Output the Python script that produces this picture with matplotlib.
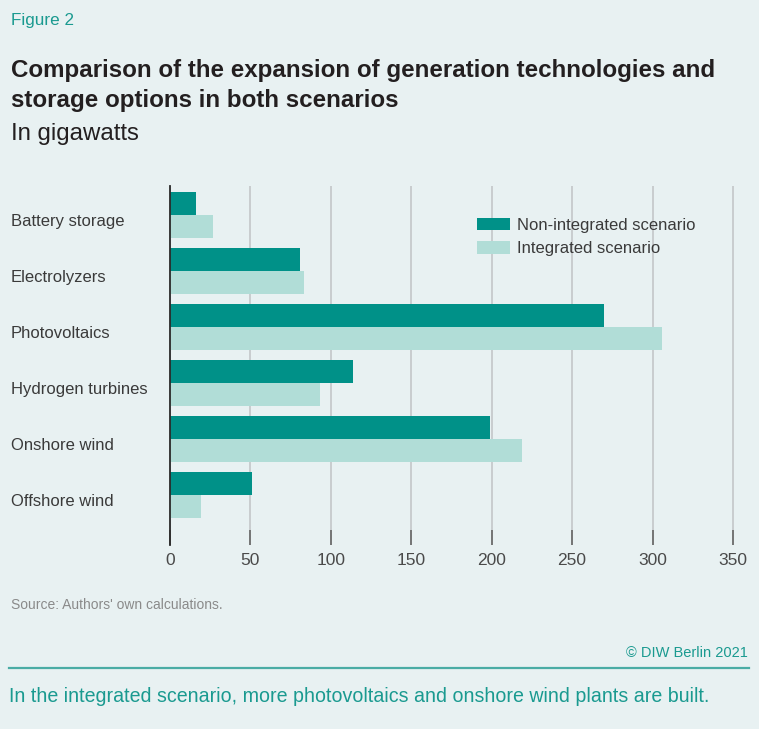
import numpy as np
import matplotlib
matplotlib.use("Agg")
import matplotlib.pyplot as plt

plt.rcParams['font.family'] = ['Liberation Sans', 'DejaVu Sans']

# data (GW)
categories = ["Battery storage", "Electrolyzers", "Photovoltaics",
              "Hydrogen turbines", "Onshore wind", "Offshore wind"]
non_integrated = [16, 81, 270, 114, 199, 51]
integrated = [27, 83, 306, 93, 219, 19]
xticks = [0, 50, 100, 150, 200, 250, 300, 350]

bg = '#e8f1f2'
dark = '#009188'
light = '#b1ddd7'
teal_text = '#1a9a90'

fig = plt.figure(figsize=(7.59, 7.29), dpi=100, facecolor=bg)
ax = fig.add_axes([170/759, 1 - 545/729, (741 - 170)/759, (545 - 186)/729])
ax.set_facecolor(bg)

y = np.arange(len(categories))
h = 0.41
ax.barh(y - h/2, non_integrated, height=h, color=dark, label="Non-integrated scenario", zorder=3)
ax.barh(y + h/2, integrated, height=h, color=light, label="Integrated scenario", zorder=3)

ax.set_xlim(0, 355)
ax.set_ylim(5.89, -0.52)

ax.set_xticks(xticks)
ax.set_xticklabels([str(t) for t in xticks], fontsize=12.5, color='#4a4a4a')
ax.tick_params(axis='x', direction='in', length=15*72/100, width=1.3, color='#6e6e6e', pad=6)
ax.xaxis.grid(True, color='#c9cdcf', linewidth=1.4, zorder=0)
ax.set_axisbelow(True)

ax.set_yticks(y)
ax.set_yticklabels(categories, fontsize=12, color='#3a3a3a', ha='left', va='top')
for lbl in ax.get_yticklabels():
    lbl.set_y(lbl.get_position()[1])
ax.tick_params(axis='y', length=0, pad=159*72/100)
# nudge labels slightly below the group centre, as in the original
import matplotlib.transforms as mtransforms
offset = mtransforms.ScaledTranslation(0, 6/100, fig.dpi_scale_trans)
for lbl in ax.get_yticklabels():
    lbl.set_verticalalignment('center')
    lbl.set_transform(lbl.get_transform() - offset)

for s in ['top', 'right', 'bottom']:
    ax.spines[s].set_visible(False)
ax.spines['left'].set_color('#2a2a2a')
ax.spines['left'].set_linewidth(1.3)
ax.spines['left'].set_zorder(4)

leg = ax.legend(loc='upper left', bbox_to_anchor=(477/759, 1 - 218/729),
                bbox_transform=fig.transFigure, frameon=False, fontsize=12,
                handlelength=1.95, handleheight=0.75, handletextpad=0.45,
                labelspacing=0.5, borderpad=0, borderaxespad=0)
for t in leg.get_texts():
    t.set_color('#3a3a3a')

# header
fig.text(11/759, 1 - 20/729, "Figure 2", fontsize=12.3, color=teal_text, va='center', ha='left')
fig.text(11/759, 1 - 70/729, "Comparison of the expansion of generation technologies and",
         fontsize=17.4, fontweight='bold', color='#231f20', va='center', ha='left')
fig.text(11/759, 1 - 101/729, "storage options in both scenarios",
         fontsize=17.4, fontweight='bold', color='#231f20', va='center', ha='left')
fig.text(11/759, 1 - 134/729, "In gigawatts", fontsize=17.3, color='#231f20', va='center', ha='left')

# footer
fig.text(11/759, 1 - 605/729, "Source: Authors' own calculations.", fontsize=10,
         color='#8a8a8a', va='center', ha='left')
fig.text(748/759, 1 - 653/729, "\u00a9 DIW Berlin 2021", fontsize=10.5,
         color=teal_text, va='center', ha='right')
fig.add_artist(plt.Line2D([9/759, 749/759], [1 - 668/729, 1 - 668/729],
                          transform=fig.transFigure, color='#4aaca5', linewidth=1.6))
fig.text(9/759, 1 - 696/729,
         "In the integrated scenario, more photovoltaics and onshore wind plants are built.",
         fontsize=14.1, color=teal_text, va='center', ha='left')

fig.savefig("out.png", dpi=100, facecolor=bg)
